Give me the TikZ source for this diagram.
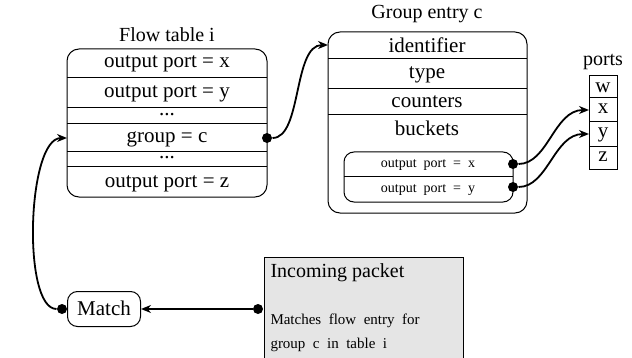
\documentclass[tikz,border=0pt]{standalone}
\usepackage{fontspec}
\setmainfont{Liberation Serif}
\usetikzlibrary{arrows.meta}
\begin{document}
\begin{tikzpicture}[x=0.5pt,y=-0.5pt,
  line width=0.5pt,
  box/.style={draw,rounded corners=6pt,inner sep=0pt},
  cell/.style={anchor=base,inner sep=0pt,font=\fontsize{10.5}{12}\selectfont},
  small/.style={anchor=base,inner sep=0pt,font=\fontsize{7}{8}\selectfont},
  title/.style={anchor=base,inner sep=0pt,font=\fontsize{10}{12}\selectfont},
  dot/.style={circle,fill=black,inner sep=0pt,minimum size=5pt},
  link/.style={line width=0.9pt,-{Stealth[length=5pt,width=4pt]}},
]
\useasboundingbox (0,0) rectangle (632,358);

% ---- flow table ----
\node[title] (fttitle) at (167,41.5) {Flow table i};
\node[box,minimum width=100pt,minimum height=74pt] (ft) at (167,123) {};
\node[cell] (r1) at (167,68) {output port = x};
\node[cell] (r2) at (167,97.5) {output port = y};
\node[cell] (r3) at (167,116) {...};
\node[cell] (r4) at (167,142) {group = c};
\node[cell] (r5) at (167,159) {...};
\node[cell] (r6) at (167,187) {output port = z};
\foreach \y in {78,108,124,152,167}
  \draw (67,\y) -- (267,\y);
\coordinate (r4w) at (67,138);
\node[dot] (gcdot) at (267,138) {};

% ---- group entry ----
\node[title] (getitle) at (427,18.5) {Group entry c};
\node[box,minimum width=99.5pt,minimum height=90.5pt] (ge) at (427.5,122.5) {};
\node[cell] (g1) at (427,52.5) {identifier};
\node[cell] (g2) at (427,78.5) {type};
\node[cell] (g3) at (427,108) {counters};
\node[cell] (g4) at (427,135) {buckets};
\foreach \y in {59,89,115}
  \draw (328,\y) -- (527,\y);
\coordinate (g1w) at (328,45);
\node[box,rounded corners=5pt,minimum width=84.5pt,minimum height=25pt] (bk) at (428.5,177) {};
\draw (344,177) -- (513,177);
\node[small] (b1) at (428,167.5) {output\ \ port\ \ =\ \ x};
\node[small] (b2) at (428,192) {output\ \ port\ \ =\ \ y};
\node[dot] (b1dot) at (513,164) {};
\node[dot] (b2dot) at (513,187) {};

% ---- ports ----
\node[title] (ptitle) at (603,66) {ports};
\node[draw,inner sep=0pt,minimum width=14pt,minimum height=47pt] (pt) at (603,123) {};
\foreach \y in {98,122,147}
  \draw (589,\y) -- (617,\y);
\node[cell] (pw) at (603,92.5) {w};
\node[cell] (px) at (603,114) {x};
\node[cell] (py) at (603,137.5) {y};
\node[cell] (pz) at (603,162) {z};
\coordinate (pxw) at (589,110);
\coordinate (pyw) at (589,134);

% ---- match and incoming packet ----
\node[box,rounded corners=5pt,minimum width=36.5pt,minimum height=17.5pt] (match) at (104,309) {};
\node[cell] (matchtext) at (104,315) {Match};
\node[dot] (mdot) at (62,309) {};
\node[draw,fill=black!10,inner sep=0pt,minimum width=99.5pt,minimum height=60pt,anchor=north west] (pkt) at (264,257) {};
\node[anchor=base west,inner sep=0pt,font=\fontsize{10}{12}\selectfont] (pkttitle) at (270,277.5) {Incoming packet};
\node[anchor=base west,inner sep=0pt,font=\fontsize{7.5}{9}\selectfont] (pkt1) at (270,324.5) {Matches\ \ flow\ \ entry\ \ for};
\node[anchor=base west,inner sep=0pt,font=\fontsize{7.5}{9}\selectfont] (pkt2) at (270,348) {group\ \ c\ \ in\ \ table\ \ i};
\node[dot] (pdot) at (258,309) {};

% ---- connectors ----
\draw[link] (gcdot) .. controls +(35,0) and +(-35,0) .. (g1w);
\draw[link] (b1dot) .. controls +(35,0) and +(-35,0) .. (pxw);
\draw[link] (b2dot) .. controls +(35,0) and +(-35,0) .. (pyw);
\draw[link] (mdot) .. controls +(-40,0) and +(-40,0) .. (r4w);
\draw[link] (pdot) -- (match.east);
\end{tikzpicture}
\end{document}
